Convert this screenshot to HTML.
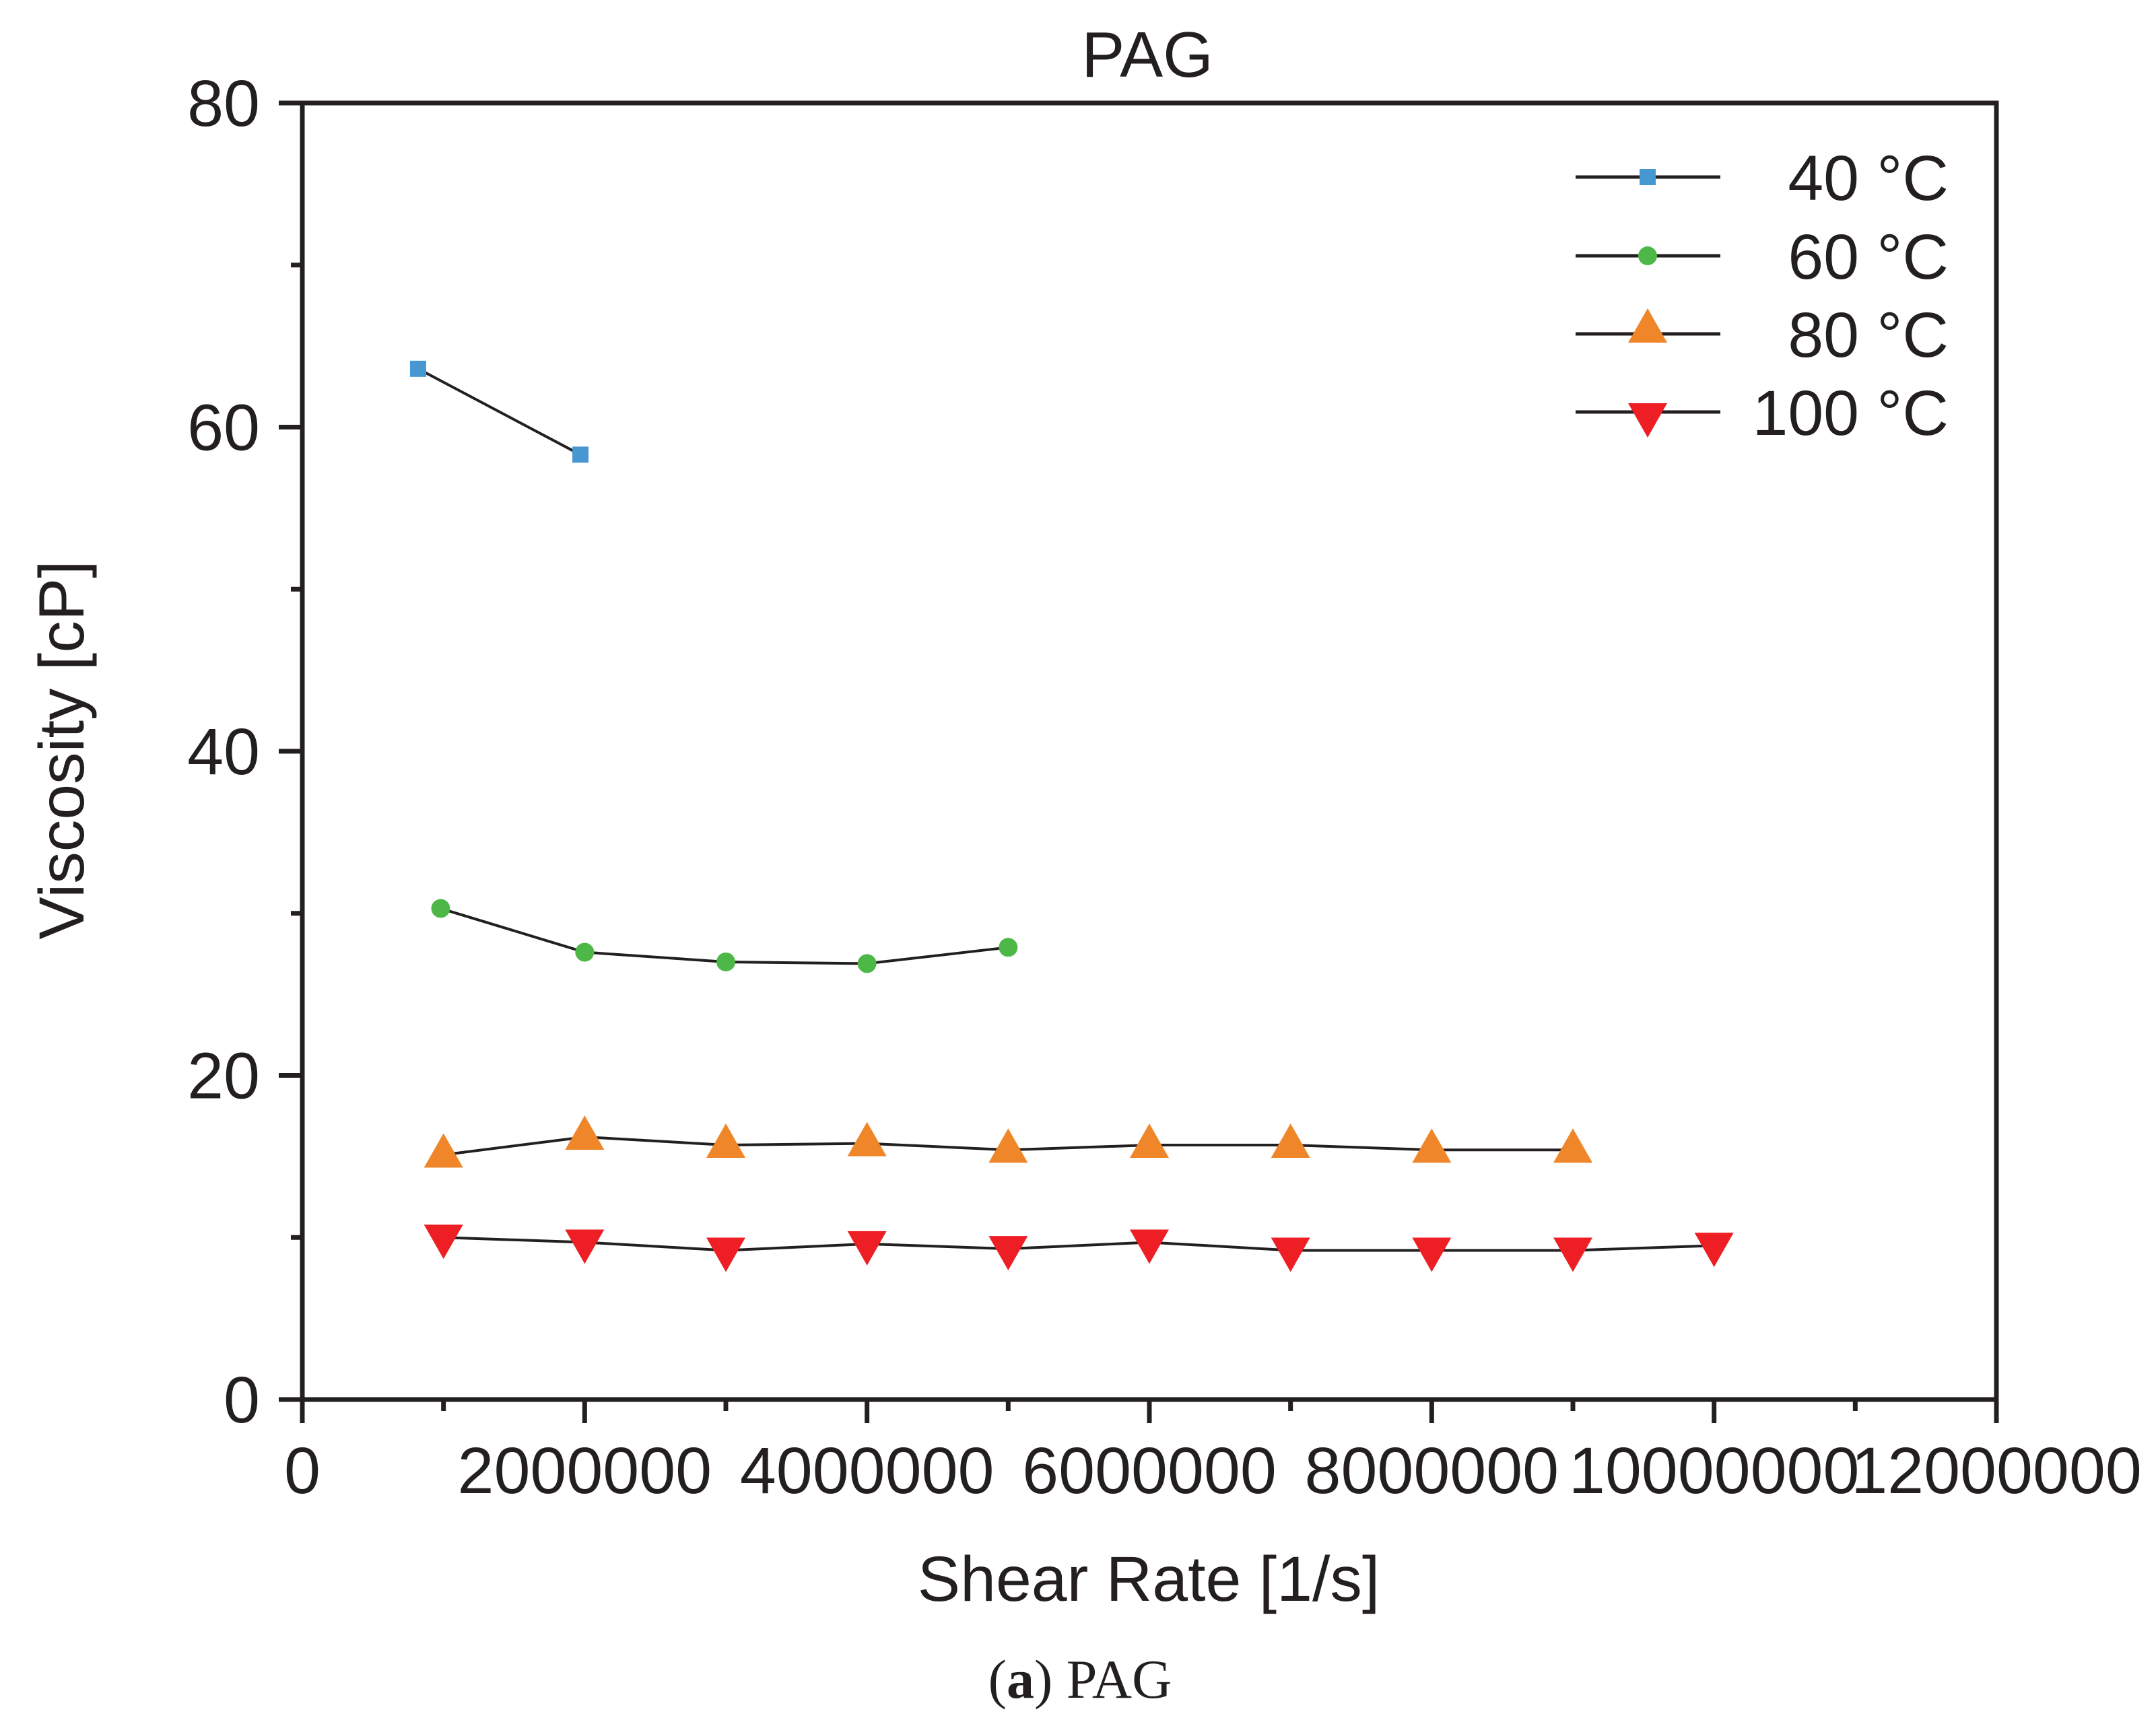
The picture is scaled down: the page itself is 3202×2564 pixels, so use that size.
<!DOCTYPE html>
<html><head><meta charset="utf-8"><style>
html,body{margin:0;padding:0;background:#fff}
svg{display:block}
text{font-family:"Liberation Sans",sans-serif;fill:#231f20}
</style></head><body>
<svg id="chart" width="3202" height="2564" viewBox="0 0 3202 2564" xmlns="http://www.w3.org/2000/svg"></svg>
<script>
const xTickValues=[0,2000000,4000000,6000000,8000000,10000000,12000000];
const xTickLabels=["0","2000000","4000000","6000000","8000000","10000000","12000000"];
const yTickValues=[0,20,40,60,80];
const yTickLabels=["0","20","40","60","80"];
const seriesNames=["40 °C","60 °C","80 °C","100 °C"];
const x40=[820000,1970000];
const y40=[63.6,58.3];
const x60=[980000,2000000,3000000,4000000,5000000];
const y60=[30.3,27.6,27.0,26.9,27.9];
const x80=[1000000,2000000,3000000,4000000,5000000,6000000,7000000,8000000,9000000];
const y80=[15.1,16.2,15.7,15.8,15.4,15.7,15.7,15.4,15.4];
const x100=[1000000,2000000,3000000,4000000,5000000,6000000,7000000,8000000,9000000,10000000];
const y100=[10.0,9.7,9.2,9.6,9.3,9.7,9.2,9.2,9.2,9.5];

const NS="http://www.w3.org/2000/svg";
const svg=document.getElementById('chart');
const L=449,R=2965,T=153,B=2079;
const xs=v=>L+(v-0)/(12000000)*(R-L);
const ys=v=>B-(v-0)/80*(B-T);
function mk(tag,attrs,parent){const e=document.createElementNS(NS,tag);for(const k in attrs)e.setAttribute(k,attrs[k]);(parent||svg).appendChild(e);return e;}

const frame=mk('rect',{x:L,y:T,width:R-L,height:B-T,fill:'none',stroke:'#231f20','stroke-width':7});



for(let i=0;i<xTickValues.length;i++){
  const x=xs(xTickValues[i]);
  const t=mk('line',{x1:x,y1:B,x2:x,y2:B+35,stroke:'#231f20','stroke-width':7});
  
  
  const lb=mk('text',{x:x,y:2218,'font-size':97,'text-anchor':'middle'});
  lb.textContent=xTickLabels[i];
  
  
  if(i<xTickValues.length-1){
    const xm=xs((xTickValues[i]+xTickValues[i+1])/2);
    const m=mk('line',{x1:xm,y1:B,x2:xm,y2:B+17,stroke:'#231f20','stroke-width':7});
    
    
  }
}
for(let i=0;i<yTickValues.length;i++){
  const y=ys(yTickValues[i]);
  const t=mk('line',{x1:L-35,y1:y,x2:L,y2:y,stroke:'#231f20','stroke-width':7});
  
  
  const lb=mk('text',{x:386,y:y+34,'font-size':97,'text-anchor':'end'});
  lb.textContent=yTickLabels[i];
  
  
  if(i<yTickValues.length-1){
    const ym=ys((yTickValues[i]+yTickValues[i+1])/2);
    const m=mk('line',{x1:L-17,y1:ym,x2:L,y2:ym,stroke:'#231f20','stroke-width':7});
    
    
  }
}

function marker(kind,cx,cy,parent){
  let e;
  if(kind==='square') e=mk('rect',{x:cx-12,y:cy-12,width:24,height:24,fill:'#4797d3'},parent);
  else if(kind==='circle') e=mk('circle',{cx:cx,cy:cy,r:14,fill:'#4db848'},parent);
  else if(kind==='up') e=mk('polygon',{points:`${cx},${cy-32} ${cx+29},${cy+19} ${cx-29},${cy+19}`,fill:'#f0862a'},parent);
  else e=mk('polygon',{points:`${cx},${cy+32} ${cx+29},${cy-19} ${cx-29},${cy-19}`,fill:'#ed1f24'},parent);
  return e;
}
const all=[[x40,y40,'square','series-40c'],[x60,y60,'circle','series-60c'],[x80,y80,'up','series-80c'],[x100,y100,'down','series-100c']];
all.forEach(([xa,ya,kind,name])=>{
  const g=mk('g',{});
  
  
  const pts=xa.map((v,i)=>xs(v)+','+ys(ya[i])).join(' ');
  const pl=mk('polyline',{points:pts,fill:'none',stroke:'#231f20','stroke-width':4},g);
  
  
  xa.forEach((v,i)=>{
    const m=marker(kind,xs(v),ys(ya[i]),g);
    
    
  });
});

const lg=mk('g',{});


const kinds=['square','circle','up','down'];
const ly=[263,380,496,612];
for(let i=0;i<4;i++){
  const ln=mk('line',{x1:2340,y1:ly[i],x2:2555,y2:ly[i],stroke:'#231f20','stroke-width':5},lg);
  
  
  const m=marker(kinds[i],2447,ly[i]+(kinds[i]==='up'?-6:kinds[i]==='down'?6:0),lg);
  
  
  const t=mk('text',{x:2894,y:ly[i]+34,'font-size':95,'text-anchor':'end'},lg);
  t.textContent=seriesNames[i];
  
  
}

const title=mk('text',{x:1704,y:114,'font-size':96,'text-anchor':'middle'});
title.textContent='PAG';


const xt=mk('text',{x:1706,y:2378,'font-size':95,'text-anchor':'middle'});
xt.textContent='Shear Rate [1/s]';


const yt=mk('text',{x:0,y:0,'font-size':95,'text-anchor':'middle',transform:'translate(124,1114) rotate(-90)'});
yt.textContent='Viscosity [cP]';


const cap=mk('text',{x:1604,y:2522,'font-size':82,'text-anchor':'middle',style:'font-family:"Liberation Serif",serif'});
cap.innerHTML='(<tspan font-weight="bold">a</tspan>) PAG';


</script>
</body></html>
